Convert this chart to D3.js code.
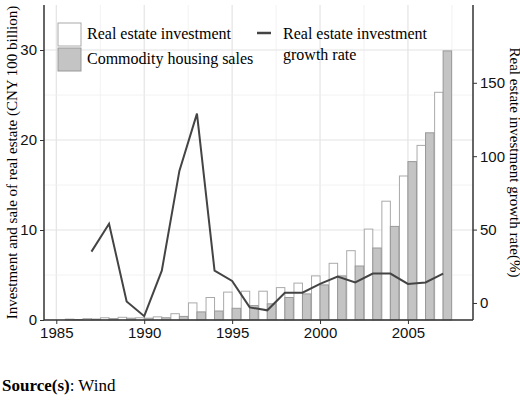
<!DOCTYPE html>
<html><head><meta charset="utf-8">
<script src="https://cdn.jsdelivr.net/npm/d3@7"></script>
<style>body{margin:0;background:#fff}text{font-family:"Liberation Serif",serif}</style>
</head><body>
<script>
// data
var years = d3.range(1986, 2008);
var investment = [0.1,0.15,0.25,0.3,0.25,0.35,0.7,1.9,2.5,3.1,3.2,3.2,3.6,4.1,4.9,6.3,7.7,10.1,13.2,16.0,19.4,25.3];
var sales = [0.05,0.1,0.15,0.2,0.2,0.25,0.4,0.9,1.0,1.3,1.6,1.8,2.5,2.9,3.9,4.9,6.0,8.0,10.4,17.6,20.8,29.9];
var growthYears = d3.range(1987, 2008);
var growth = [35,54,1,-9,22,90,129,22,15,-3,-5,7,7,13,18,14,20,20,13,14,20];
var xTicks = [1985,1990,1995,2000,2005];
var leftTicks = [0,10,20,30];
var rightTicks = [0,50,100,150];

var W = 520, H = 403;
var pLeft = 44, pRight = 473, pTop = 5, pBottom = 320;

var svg = d3.select("body").append("svg").attr("width", W).attr("height", H);

var x = d3.scaleLinear().domain([1984.3, 2008.7]).range([pLeft, pRight]);
var y = d3.scaleLinear().domain([0, 35]).range([pBottom, pTop]);
var y2 = d3.scaleLinear().domain([-11.6, 203]).range([pBottom, pTop]);

// grid
var g = svg.append("g");
d3.range(1985, 2008.7, 2.5).forEach(function(t) {
  g.append("line").attr("x1", x(t)).attr("x2", x(t)).attr("y1", pTop).attr("y2", pBottom)
    .attr("stroke", t % 5 === 0 ? "#e4e4e4" : "#efefef").attr("stroke-width", t % 5 === 0 ? 1.2 : 0.8);
});
d3.range(0, 35, 5).forEach(function(t) {
  g.append("line").attr("x1", pLeft).attr("x2", pRight).attr("y1", y(t)).attr("y2", y(t))
    .attr("stroke", t % 10 === 0 ? "#e4e4e4" : "#efefef").attr("stroke-width", t % 10 === 0 ? 1.2 : 0.8);
});

// bars
var bw = 8.5;
svg.selectAll(".inv").data(years).enter().append("rect")
  .attr("x", function(d) { return x(d) - bw; }).attr("width", bw)
  .attr("y", function(d, i) { return y(investment[i]); })
  .attr("height", function(d, i) { return pBottom - y(investment[i]); })
  .attr("fill", "#fff").attr("stroke", "#aaa").attr("stroke-width", 1);
svg.selectAll(".sal").data(years).enter().append("rect")
  .attr("x", function(d) { return x(d); }).attr("width", bw)
  .attr("y", function(d, i) { return y(sales[i]); })
  .attr("height", function(d, i) { return pBottom - y(sales[i]); })
  .attr("fill", "#c4c4c4").attr("stroke", "#999").attr("stroke-width", 1);

// growth line
var line = d3.line().x(function(d) { return x(d); }).y(function(d, i) { return y2(growth[i]); });
svg.append("path").datum(growthYears).attr("d", line)
  .attr("fill", "none").attr("stroke", "#444").attr("stroke-width", 2);

// axes
var xAxis = svg.append("g").attr("transform", "translate(0," + pBottom + ")")
  .call(d3.axisBottom(x).tickValues(xTicks).tickFormat(d3.format("d")).tickSize(4));
var yAxis = svg.append("g").attr("transform", "translate(" + pLeft + ",0)")
  .call(d3.axisLeft(y).tickValues(leftTicks).tickSize(4));
var y2Axis = svg.append("g").attr("transform", "translate(" + pRight + ",0)")
  .call(d3.axisRight(y2).tickValues(rightTicks).tickSize(4));
[xAxis, yAxis, y2Axis].forEach(function(a) {
  a.selectAll("text").attr("font-size", 15).attr("fill", "#111").style("font-family", "Liberation Sans, Arial, sans-serif");
  a.selectAll("line").attr("stroke", "#333");
  a.select(".domain").attr("stroke", "#333").attr("stroke-width", 1.5);
});
xAxis.select(".domain").attr("d", "M" + pLeft + ",0H" + pRight);
yAxis.select(".domain").attr("d", "M0," + pTop + "V" + pBottom);
y2Axis.select(".domain").attr("d", "M0," + pTop + "V" + pBottom);

// axis titles
svg.append("text").attr("transform", "translate(17," + ((pTop + pBottom) / 2) + ") rotate(-90)")
  .attr("text-anchor", "middle").attr("font-size", 15).text("Investment and sale of real estate (CNY 100 billion)");
svg.append("text").attr("transform", "translate(510," + ((pTop + pBottom) / 2) + ") rotate(90)")
  .attr("text-anchor", "middle").attr("font-size", 15).text("Real estate investment growth rate(%)");

// legend
var lg = svg.append("g").attr("font-size", 16);
lg.append("rect").attr("x", 58).attr("y", 23).attr("width", 23).attr("height", 23).attr("fill", "#fff").attr("stroke", "#aaa");
lg.append("rect").attr("x", 58).attr("y", 48).attr("width", 23).attr("height", 23).attr("fill", "#c4c4c4").attr("stroke", "#999");
lg.append("text").attr("x", 87).attr("y", 39).text("Real estate investment");
lg.append("text").attr("x", 87).attr("y", 64).text("Commodity housing sales");
lg.append("line").attr("x1", 257).attr("x2", 271).attr("y1", 33).attr("y2", 33).attr("stroke", "#444").attr("stroke-width", 2.5);
lg.append("text").attr("x", 283).attr("y", 39).text("Real estate investment");
lg.append("text").attr("x", 283).attr("y", 60).text("growth rate");

// source
var src = svg.append("text").attr("x", 2).attr("y", 391).attr("font-size", 17);
src.append("tspan").attr("font-weight", "bold").text("Source(s)");
src.append("tspan").text(": Wind");
</script>
</body></html>
